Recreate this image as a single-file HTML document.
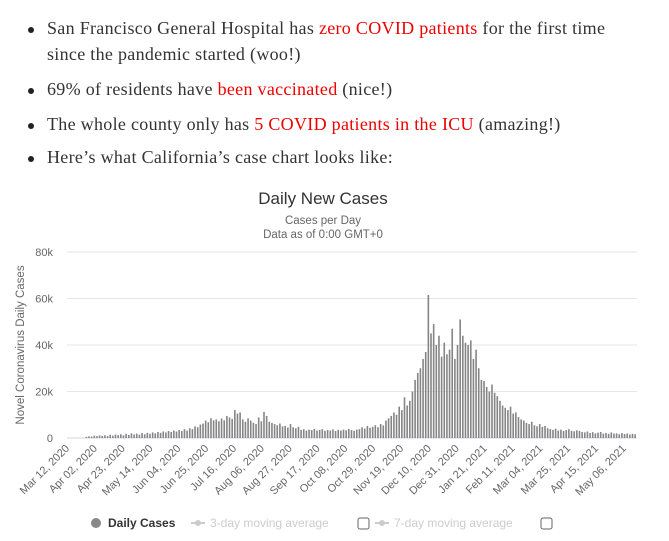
<!DOCTYPE html>
<html><head><meta charset="utf-8"><style>
body{margin:0;width:669px;height:541px;background:#fff;overflow:hidden;font-family:"Liberation Serif",serif;}
ul{margin:0;padding:0;list-style:none;position:absolute;left:0;top:0;}
li{position:absolute;left:47px;font-size:18px;letter-spacing:0.3px;color:#333;white-space:nowrap;}
li:before{content:"";position:absolute;left:-19px;top:9px;width:6px;height:6px;border-radius:50%;background:#222;}
a{color:#e00;text-decoration:none;}
svg{position:absolute;left:0;top:0;}
</style></head><body>
<ul>
<li style="top:18px">San Francisco General Hospital has <a href="#">zero COVID patients</a> for the first time</li>
<li style="top:44px;">since the pandemic started (woo!)</li>
<li style="top:79px">69% of residents have <a href="#">been vaccinated</a> (nice!)</li>
<li style="top:114px">The whole county only has <a href="#">5 COVID patients in the ICU</a> (amazing!)</li>
<li style="top:147px">Here’s what California’s case chart looks like:</li>
</ul>
<style>li:nth-child(2):before{display:none}</style>
<svg id="chart" width="669" height="541" font-family="Liberation Sans, sans-serif">
<text x="323" y="204" text-anchor="middle" font-size="17" fill="#333">Daily New Cases</text>
<text x="323" y="224" text-anchor="middle" font-size="11.5" fill="#666">Cases per Day</text>
<text x="323" y="238" text-anchor="middle" font-size="11.5" fill="#666">Data as of 0:00 GMT+0</text>
<text transform="translate(24,345) rotate(-90)" text-anchor="middle" font-size="11.5" fill="#666">Novel Coronavirus Daily Cases</text>
<g id="grid"></g><g id="bars"></g><g id="xlabels"></g>
<g font-size="12">
<circle cx="96" cy="523" r="5" fill="#888"/>
<text x="108" y="527" font-weight="bold" fill="#333">Daily Cases</text>
<line x1="191" y1="523" x2="205" y2="523" stroke="#ccc" stroke-width="2"/><circle cx="198" cy="523" r="3" fill="#ccc"/>
<text x="210" y="527" fill="#ccc">3-day moving average</text>
<rect x="358" y="518" width="11" height="11" rx="2" fill="#fff" stroke="#666"/>
<line x1="375" y1="523" x2="389" y2="523" stroke="#ccc" stroke-width="2"/><circle cx="382" cy="523" r="3" fill="#ccc"/>
<text x="394" y="527" fill="#ccc">7-day moving average</text>
<rect x="541" y="518" width="11" height="11" rx="2" fill="#fff" stroke="#666"/>
</g>
</svg>
<script>
const yTicks=[0,20,40,60,80];
const yTickLabels=["0","20k","40k","60k","80k"];
const xTickLabels=["Mar 12, 2020","Apr 02, 2020","Apr 23, 2020","May 14, 2020","Jun 04, 2020","Jun 25, 2020","Jul 16, 2020","Aug 06, 2020","Aug 27, 2020","Sep 17, 2020","Oct 08, 2020","Oct 29, 2020","Nov 19, 2020","Dec 10, 2020","Dec 31, 2020","Jan 21, 2021","Feb 11, 2021","Mar 04, 2021","Mar 25, 2021","Apr 15, 2021","May 06, 2021"];
const xTickDays=[0,21,42,63,84,105,126,147,168,189,210,231,252,273,294,315,336,357,378,399,420];
// daily cases (thousands), one value per 2 days starting Mar 12, 2020
const cases=[0,0,0,0,0,0,0,
0.5,0.7,0.6,1.0,0.8,1.1,0.9,1.2,0.8,1.4,1.0,1.5,1.2,1.6,1.1,1.8,1.3,2.0,1.5,1.9,1.4,2.1,1.6,2.2,1.8,2.4,2.0,
2.6,2.2,2.8,2.4,3.0,2.6,3.2,2.8,3.4,3.0,3.8,3.2,
4.2,3.8,5.0,4.6,5.8,6.2,7.5,6.8,8.5,7.6,
8.0,7.2,8.4,7.6,9.5,8.8,8.2,12.0,10.5,11.0,
8.0,7.0,8.5,7.5,6.5,6.0,8.8,7.2,11.2,9.5,
7.0,6.5,6.0,5.5,6.2,5.0,5.2,4.5,6.0,4.6,4.2,4.8,
3.5,3.8,3.2,3.6,3.4,3.9,3.2,3.5,3.8,3.1,3.4,3.2,3.7,3.0,3.5,3.2,3.6,3.3,3.9,3.4,3.1,3.6,3.8,
4.6,4.0,5.2,4.4,4.8,5.5,4.6,6.0,5.4,
7.5,8.5,9.5,11.0,10.0,13.5,12.0,17.5,14.0,
16.0,20.0,25.0,28.0,30.0,34.0,
37.0,61.5,45.0,49.0,40.0,44.0,35.0,41.0,36.0,38.0,47.0,34.0,40.0,51.0,44.0,41.0,
40.0,42.0,34.0,38.0,30.0,
25.0,24.5,22.0,20.0,23.0,19.5,18.0,
16.0,14.0,13.0,12.0,13.5,10.5,11.0,9.0,
8.0,7.5,6.5,6.0,7.0,5.5,5.0,6.0,4.8,5.2,
4.2,3.8,3.5,4.0,3.2,3.6,3.0,3.4,3.8,3.1,2.9,3.3,3.0,
2.6,2.4,2.8,2.2,2.5,2.0,2.3,2.6,1.9,2.2,1.8,2.4,1.9,2.0,1.6,2.1,1.7,1.9,1.5,1.8,1.6];
const NS="http://www.w3.org/2000/svg";
const x0=67,x1=637,totalDays=430,yTop=252,yBot=438;
function xScale(d){return x0+(x1-x0)*d/totalDays;}
function yScale(v){return yBot-(yBot-yTop)*v/80;}
const grid=document.getElementById('grid');
yTicks.forEach((t,i)=>{
 const l=document.createElementNS(NS,'line');
 
 
 l.setAttribute('x1',x0);l.setAttribute('x2',x1);
 l.setAttribute('y1',yScale(t));l.setAttribute('y2',yScale(t));
 l.setAttribute('stroke',t===0?'#ccd6eb':'#e6e6e6');l.setAttribute('stroke-width','1');
 grid.appendChild(l);
 const tx=document.createElementNS(NS,'text');
 
 
 tx.setAttribute('x',53);tx.setAttribute('y',yScale(t)+4);
 tx.setAttribute('text-anchor','end');tx.setAttribute('font-size','11');tx.setAttribute('fill','#666');
 tx.textContent=yTickLabels[i];grid.appendChild(tx);
});
const bars=document.getElementById('bars');
cases.forEach((v,i)=>{
 if(v<=0)return;
 const r=document.createElementNS(NS,'rect');
 
 
 const x=xScale(i*2);
 r.setAttribute('x',x);r.setAttribute('width',1.6);
 r.setAttribute('y',yScale(v));r.setAttribute('height',yBot-yScale(v));
 r.setAttribute('fill','#858585');
 bars.appendChild(r);
});
const xl=document.getElementById('xlabels');
xTickLabels.forEach((s,i)=>{
 const t=document.createElementNS(NS,'text');
 
 
 const x=xScale(xTickDays[i])+3;
 t.setAttribute('transform','translate('+x+',449) rotate(-45)');
 t.setAttribute('text-anchor','end');t.setAttribute('font-size','11');t.setAttribute('fill','#666');
 t.textContent=s;xl.appendChild(t);
});
</script>
</body></html>
